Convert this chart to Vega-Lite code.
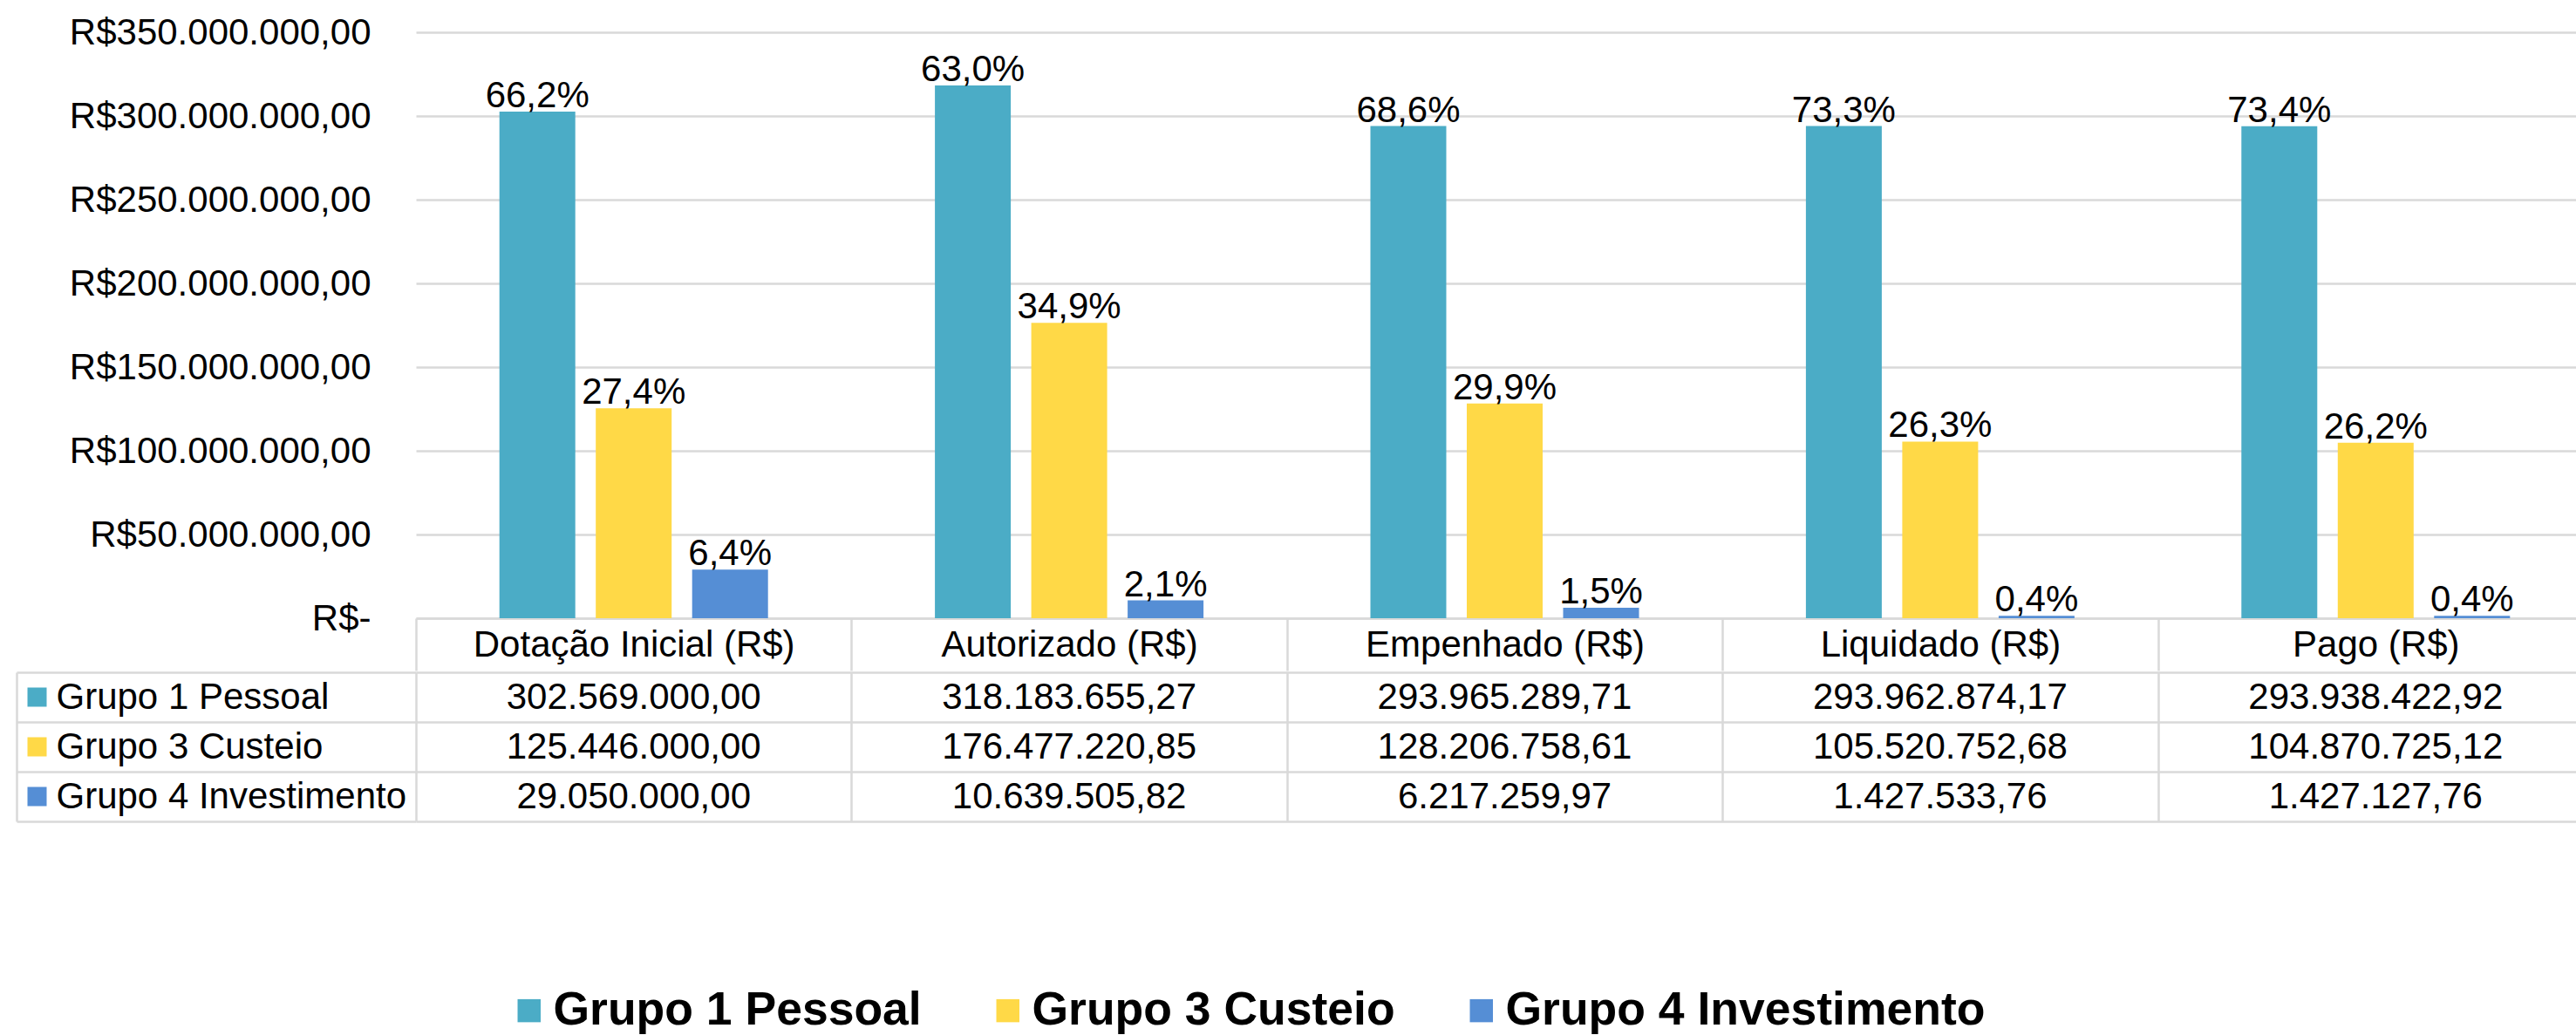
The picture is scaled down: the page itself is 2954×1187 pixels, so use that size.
{
  "$schema": "https://vega.github.io/schema/vega-lite/v6.json",
  "padding": {"left": 17, "top": 16, "right": 0, "bottom": 0},
  "config": {
    "locale": {"number": {"decimal": ",", "thousands": ".", "grouping": [3], "currency": ["R$", ""]}},
    "font": "Liberation Sans",
    "view": {"stroke": null},
    "background": "white"
  },
  "spacing": -21,
  "datasets": {
    "d": [
      {"category": "Dotação Inicial (R$)", "group": "Grupo 1 Pessoal", "value": 302569000.00, "pct": 0.662},
      {"category": "Dotação Inicial (R$)", "group": "Grupo 3 Custeio", "value": 125446000.00, "pct": 0.274},
      {"category": "Dotação Inicial (R$)", "group": "Grupo 4 Investimento", "value": 29050000.00, "pct": 0.064},
      {"category": "Autorizado (R$)", "group": "Grupo 1 Pessoal", "value": 318183655.27, "pct": 0.630},
      {"category": "Autorizado (R$)", "group": "Grupo 3 Custeio", "value": 176477220.85, "pct": 0.349},
      {"category": "Autorizado (R$)", "group": "Grupo 4 Investimento", "value": 10639505.82, "pct": 0.021},
      {"category": "Empenhado (R$)", "group": "Grupo 1 Pessoal", "value": 293965289.71, "pct": 0.686},
      {"category": "Empenhado (R$)", "group": "Grupo 3 Custeio", "value": 128206758.61, "pct": 0.299},
      {"category": "Empenhado (R$)", "group": "Grupo 4 Investimento", "value": 6217259.97, "pct": 0.015},
      {"category": "Liquidado (R$)", "group": "Grupo 1 Pessoal", "value": 293962874.17, "pct": 0.733},
      {"category": "Liquidado (R$)", "group": "Grupo 3 Custeio", "value": 105520752.68, "pct": 0.263},
      {"category": "Liquidado (R$)", "group": "Grupo 4 Investimento", "value": 1427533.76, "pct": 0.004},
      {"category": "Pago (R$)", "group": "Grupo 1 Pessoal", "value": 293938422.92, "pct": 0.734},
      {"category": "Pago (R$)", "group": "Grupo 3 Custeio", "value": 104870725.12, "pct": 0.262},
      {"category": "Pago (R$)", "group": "Grupo 4 Investimento", "value": 1427127.76, "pct": 0.004}
    ]
  },
  "vconcat": [
    {
      "width": 2497,
      "height": 672,
      "data": {"name": "d"},
      "encoding": {
        "x": {
          "field": "category", "type": "nominal", "sort": null,
          "scale": {"paddingInner": 0, "paddingOuter": 0},
          "axis": {
            "title": null, "labelAngle": 0, "labelFontSize": 42, "labelColor": "#000000",
            "labelLimit": 0, "labelBaseline": "middle", "labelPadding": -30,
            "domain": true, "domainColor": "#d9d9d9", "domainWidth": 2.5,
            "ticks": true, "tickBand": "extent", "tickSize": 60, "tickColor": "#d9d9d9", "tickWidth": 2.5,
            "grid": false
          }
        },
        "xOffset": {
          "field": "group", "type": "nominal", "sort": null,
          "scale": {"paddingInner": 0.2127, "paddingOuter": 0.866}
        },
        "y": {
          "field": "value", "type": "quantitative",
          "scale": {"domain": [0, 350000000], "nice": false},
          "axis": {
            "title": null, "values": [0, 50000000, 100000000, 150000000, 200000000, 250000000, 300000000, 350000000],
            "labelExpr": "datum.value === 0 ? 'R$-\u00a0\u00a0' : format(datum.value, '$,.2f')",
            "labelFontSize": 42, "labelColor": "#000000", "labelLimit": 0, "labelPadding": 52,
            "domain": false, "ticks": false,
            "grid": true, "gridColor": "#d9d9d9", "gridWidth": 2.5
          }
        }
      },
      "layer": [
        {
          "mark": {"type": "bar"},
          "encoding": {
            "color": {
              "field": "group", "type": "nominal", "sort": null,
              "scale": {"domain": ["Grupo 1 Pessoal", "Grupo 3 Custeio", "Grupo 4 Investimento"], "range": ["#4BACC6", "#FFD947", "#558ED5"]},
              "legend": {
                "orient": "none", "legendX": 103, "legendY": 1095, "direction": "horizontal",
                "title": null, "symbolType": "square", "symbolSize": 700, "symbolStrokeWidth": 0,
                "labelFontSize": 53.5, "labelFontWeight": "bold", "labelColor": "#000000",
                "labelOffset": 1, "columnPadding": 72, "labelLimit": 0
              }
            }
          }
        },
        {
          "mark": {"type": "text", "baseline": "alphabetic", "dy": -5, "fontSize": 42, "color": "#000000"},
          "encoding": {
            "text": {"field": "pct", "type": "quantitative", "format": ".1%"}
          }
        }
      ]
    },
    {
      "width": 2497,
      "height": 171,
      "data": {"name": "d"},
      "encoding": {
        "y": {"field": "group", "type": "nominal", "sort": null, "scale": {"paddingInner": 0, "paddingOuter": 0}}
      },
      "layer": [
        {
          "mark": {"type": "text", "fontSize": 42, "color": "#000000", "baseline": "middle"},
          "encoding": {
            "x": {
              "field": "category", "type": "nominal", "sort": null,
              "scale": {"paddingInner": 0, "paddingOuter": 0},
              "axis": {
                "title": null, "labels": false, "ticks": false, "domain": false,
                "grid": true, "tickBand": "extent", "gridColor": "#d9d9d9", "gridWidth": 2.5
              }
            },
            "y": {
              "field": "group", "type": "nominal", "sort": null,
              "axis": {
                "title": null, "orient": "left", "offset": 458,
                "labelAlign": "left", "labelBaseline": "middle", "labelFontSize": 42, "labelColor": "#000000",
                "labelLimit": 0, "labelPadding": 413,
                "domain": true, "domainColor": "#d9d9d9", "domainWidth": 2.5,
                "ticks": true, "tickBand": "extent", "tickSize": -458, "tickColor": "#d9d9d9", "tickWidth": 2.5,
                "grid": true, "gridColor": "#d9d9d9", "gridWidth": 2.5
              }
            },
            "text": {"field": "value", "type": "quantitative", "format": ",.2f"}
          }
        },
        {
          "mark": {"type": "text", "opacity": 0},
          "encoding": {
            "y": {
              "field": "group", "type": "nominal", "sort": null,
              "axis": {
                "title": null, "orient": "left", "offset": 424,
                "labels": false, "domain": false, "grid": false,
                "ticks": true, "tickSize": 22, "tickWidth": 22, "tickCap": "butt",
                "tickColor": {
                  "condition": [
                    {"test": "datum.value === 'Grupo 1 Pessoal'", "value": "#4BACC6"},
                    {"test": "datum.value === 'Grupo 3 Custeio'", "value": "#FFD947"}
                  ],
                  "value": "#558ED5"
                }
              }
            },
            "text": {"value": ""}
          }
        }
      ],
      "resolve": {"axis": {"y": "independent"}}
    }
  ]
}
